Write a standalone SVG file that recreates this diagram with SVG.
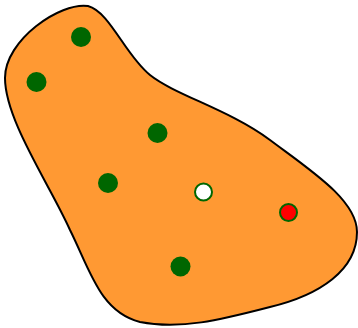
<svg xmlns="http://www.w3.org/2000/svg" width="358" height="328" viewBox="0 0 358 328">
<style>
.blob{fill:#ff9933;stroke:#000;stroke-width:2}
.g{fill:#006600}
.w{fill:#fff;stroke:#006600;stroke-width:2}
.r{fill:#ff0000;stroke:#006600;stroke-width:2}
</style>
<rect width="358" height="328" fill="#fff"/>
<path class="blob" d="M 88 6 C 110 12, 125 55, 150 75 C 175 95, 230 110, 270 140 C 310 170, 357 200, 357 232 C 357 270, 320 295, 270 307 C 220 320, 180 330, 140 322 C 100 312, 90 270, 70 230 C 50 185, 5 120, 5 78 C 5 40, 60 2, 88 6 Z"/>
<g id="p1"><circle class="g" cx="81" cy="37" r="10"/></g>
<g id="p2"><circle class="g" cx="36.5" cy="82" r="10"/></g>
<g id="p3"><circle class="g" cx="157.5" cy="133" r="10"/></g>
<g id="p4"><circle class="g" cx="108" cy="183" r="10"/></g>
<g id="p5"><circle class="g" cx="180.5" cy="266.5" r="10"/></g>
<g id="p6"><circle class="w" cx="203.5" cy="192" r="8.5"/></g>
<g id="p7"><circle class="r" cx="288.5" cy="212.5" r="8.5"/></g>
<g id="connectors"></g>
</svg>
